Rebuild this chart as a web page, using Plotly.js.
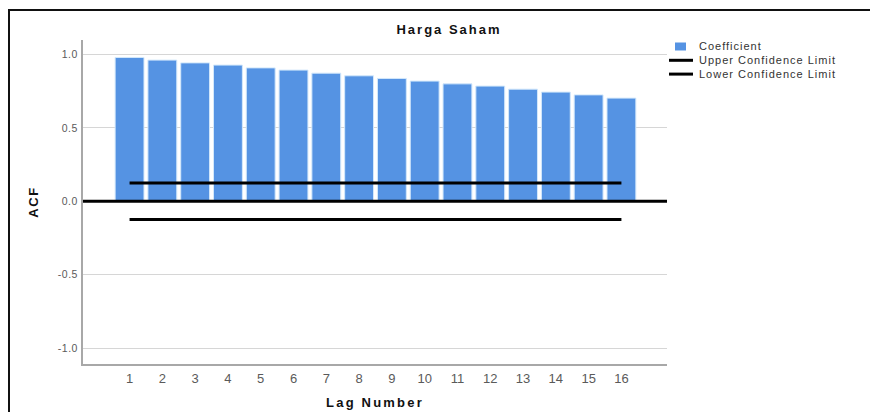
<!DOCTYPE html>
<html>
<head>
<meta charset="utf-8">
<script src="https://cdn.plot.ly/plotly-3.0.1.min.js"></script>
<style>
  html, body { margin: 0; padding: 0; background: #fff; }
  #wrap { position: relative; width: 870px; height: 412px; overflow: hidden; }
  #chart { position: absolute; left: 0; top: 0; width: 870px; height: 412px; }
  #frame {
    position: absolute; left: 8px; top: 9px; width: 880px; height: 420px;
    border-top: 2px solid #111; border-left: 2px solid #111;
    pointer-events: none; box-sizing: border-box;
  }
  /* SPSS-style wide text spacing (unscoped so Plotly's text measuring sees it too) */
  .gtitle { letter-spacing: 2px; }
  .xtitle { letter-spacing: 2.2px; }
  .ytitle { letter-spacing: 1.6px; }
  .annotation-text { letter-spacing: 1px; }
  .ytick text { letter-spacing: 0.5px; }
</style>
</head>
<body>
<div id="wrap">
  <div id="chart"></div>
  <div id="frame"></div>
</div>
<script>
// Autocorrelation of share price ("Harga Saham"), lags 1-16
const lags = [1, 2, 3, 4, 5, 6, 7, 8, 9, 10, 11, 12, 13, 14, 15, 16];
const acf = [0.980, 0.962, 0.943, 0.928, 0.909, 0.894, 0.873, 0.855,
             0.837, 0.819, 0.800, 0.785, 0.764, 0.744, 0.725, 0.703];
const upperLimit = [0.124, 0.124, 0.124, 0.124, 0.124, 0.124, 0.124, 0.124,
                    0.124, 0.124, 0.124, 0.124, 0.124, 0.124, 0.124, 0.124];
const lowerLimit = [-0.124, -0.124, -0.124, -0.124, -0.124, -0.124, -0.124, -0.124,
                    -0.124, -0.124, -0.124, -0.124, -0.124, -0.124, -0.124, -0.124];
const yTickVals = [-1, -0.5, 0, 0.5, 1];
const yTickText = ['-1.0', '-0.5', '0.0', '0.5', '1.0'];
const seriesNames = ['Coefficient', 'Upper Confidence Limit', 'Lower Confidence Limit'];

const FONT = 'Liberation Sans, Arial, Helvetica, sans-serif';
const BAR_COLOR = '#5593e3';
const W = 870, H = 412;
const M = { l: 83, r: 203, t: 40, b: 48 };
const plotW = W - M.l - M.r, plotH = H - M.t - M.b;
// pixel -> paper helpers for the hand-built legend
const px = v => (v - M.l) / plotW;
const py = v => (H - M.b - v) / plotH;

const traces = [
  {
    type: 'bar', x: lags, y: acf, name: seriesNames[0],
    marker: { color: BAR_COLOR, line: { color: '#d3e8fb', width: 1 } },
    hoverinfo: 'x+y'
  },
  {
    type: 'scatter', mode: 'lines', x: lags, y: upperLimit, name: seriesNames[1],
    line: { color: '#000', width: 3 }
  },
  {
    type: 'scatter', mode: 'lines', x: lags, y: lowerLimit, name: seriesNames[2],
    line: { color: '#000', width: 3 }
  }
];

// legend drawn as annotations + shapes to keep SPSS's compact row spacing
const legRow0 = 46.5, legStep = 13.8;
const annotations = seriesNames.map((name, i) => ({
  xref: 'paper', yref: 'paper', x: px(697), y: py(legRow0 + i * legStep),
  xanchor: 'left', yanchor: 'middle', showarrow: false, text: name,
  font: { family: FONT, size: 11, color: '#333' }
}));

const shapes = [
  // zero reference line across the plot
  { type: 'line', xref: 'paper', x0: 0, x1: 1, yref: 'y', y0: 0, y1: 0,
    line: { color: '#000', width: 3 }, layer: 'above' },
  // legend keys
  { type: 'rect', xref: 'paper', yref: 'paper',
    x0: px(675), x1: px(686), y0: py(legRow0 - 4), y1: py(legRow0 + 4),
    fillcolor: BAR_COLOR, line: { width: 0 } },
  ...[1, 2].map(i => ({
    type: 'line', xref: 'paper', yref: 'paper',
    x0: px(669), x1: px(693), y0: py(legRow0 + i * legStep), y1: py(legRow0 + i * legStep),
    line: { color: '#000', width: 3 }
  }))
];

const layout = {
  width: W, height: H, margin: M,
  paper_bgcolor: 'rgba(0,0,0,0)', plot_bgcolor: '#fff',
  font: { family: FONT, color: '#333' },
  showlegend: false,
  bargap: 0.12,
  title: {
    text: 'Harga Saham', xref: 'container', yref: 'container',
    x: 449 / W, y: 1 - 29.5 / H, xanchor: 'center', yanchor: 'middle',
    font: { family: FONT, size: 13, weight: 'bold', color: '#111' }
  },
  xaxis: {
    range: [-0.42, 17.39], tickvals: lags, ticks: '',
    showgrid: false, zeroline: false,
    showline: true, linecolor: '#a8a8a8', linewidth: 2,
    tickfont: { family: FONT, size: 13, color: '#5a5a5a' },
    ticklabelstandoff: 1,
    title: { text: 'Lag Number', standoff: 13,
             font: { family: FONT, size: 13, weight: 'bold', color: '#111' } },
    fixedrange: true
  },
  yaxis: {
    range: [-1.109, 1.099], tickvals: yTickVals, ticktext: yTickText, ticks: '',
    showgrid: true, gridcolor: '#d6d6d6', gridwidth: 1, zeroline: false,
    showline: true, linecolor: '#a8a8a8', linewidth: 2,
    tickfont: { family: FONT, size: 10.5, color: '#5a5a5a' },
    ticklabelstandoff: 1,
    title: { text: 'ACF', standoff: 16,
             font: { family: FONT, size: 13, weight: 'bold', color: '#111' } },
    fixedrange: true
  },
  annotations: annotations,
  shapes: shapes
};

Plotly.newPlot('chart', traces, layout, { displayModeBar: false, staticPlot: true });
</script>
</body>
</html>
